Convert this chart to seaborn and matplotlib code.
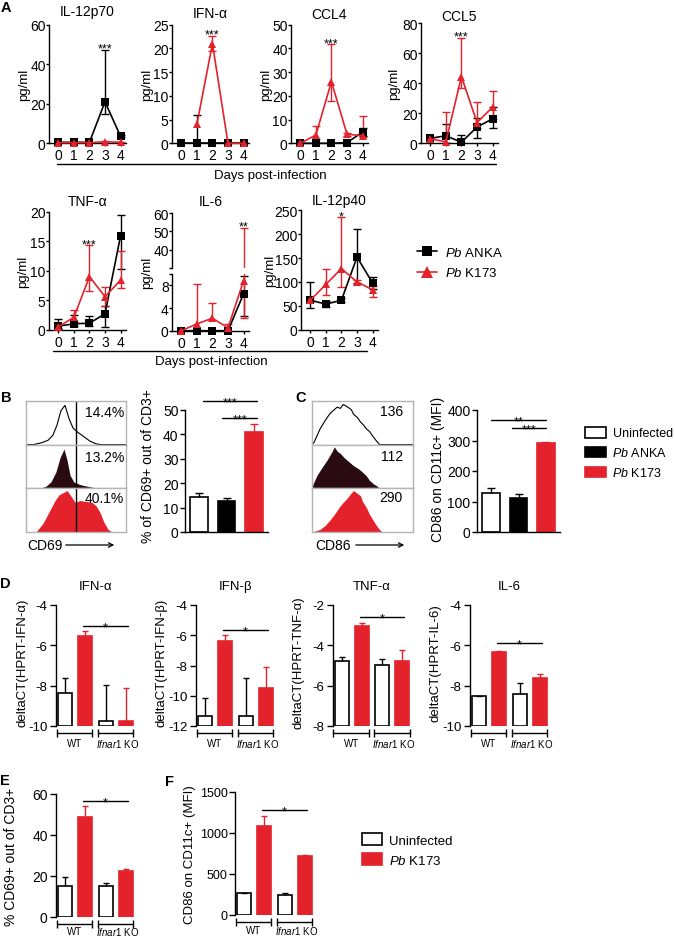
import numpy as np
import pandas as pd
import matplotlib
matplotlib.use("Agg")
import matplotlib.pyplot as plt
import matplotlib.transforms as mtransforms
from matplotlib.lines import Line2D
from matplotlib.patches import Patch, FancyArrowPatch
import seaborn as sns

W, H = 675, 937
RED = "#e3222b"
DARK = "#2a0b12"
GREY = "#b4b4b4"

# ---------------- data ----------------
days = [0, 1, 2, 3, 4]
strains = ["ANKA", "K173"]

# A: serum cytokines (pg/ml) - mean, lower and upper end of the error bar
il12p70_anka = [0.5, 0.5, 0.5, 21.0, 3.5]
il12p70_anka_lo = [0.5, 0.5, 0.5, 15.0, 3.0]
il12p70_anka_hi = [0.5, 0.5, 0.5, 47.0, 4.2]
il12p70_k173 = [0.3, 0.3, 0.3, 0.8, 0.5]
il12p70_k173_lo = [0.3, 0.3, 0.3, 0.8, 0.5]
il12p70_k173_hi = [0.3, 0.3, 0.3, 1.3, 0.8]

ifna_anka = [0.0, 0.0, 0.0, 0.0, 0.0]
ifna_anka_lo = [0.0, 0.0, 0.0, 0.0, 0.0]
ifna_anka_hi = [0.0, 6.0, 0.0, 0.0, 0.0]
ifna_k173 = [np.nan, 4.0, 21.0, 0.0, 0.0]
ifna_k173_lo = [np.nan, 4.0, 19.5, 0.0, 0.0]
ifna_k173_hi = [np.nan, 4.0, 22.7, 0.0, 0.0]

ccl4_anka = [0.0, 0.0, 0.0, 0.3, 4.7]
ccl4_anka_lo = [0.0, 0.0, 0.0, 0.3, 3.2]
ccl4_anka_hi = [0.0, 0.0, 0.0, 0.3, 6.5]
ccl4_k173 = [0.0, 3.5, 26.0, 3.8, 3.2]
ccl4_k173_lo = [0.0, 2.0, 18.0, 3.2, 2.5]
ccl4_k173_hi = [0.0, 7.3, 42.0, 4.3, 11.5]

ccl5_anka = [3.3, 5.0, 0.7, 10.8, 16.3]
ccl5_anka_lo = [3.3, 0.0, 0.0, 3.5, 10.0]
ccl5_anka_hi = [3.3, 12.7, 5.5, 17.0, 24.0]
ccl5_k173 = [3.0, 1.0, 44.4, 13.8, 24.0]
ccl5_k173_lo = [3.0, 0.0, 37.0, 10.0, 16.0]
ccl5_k173_hi = [3.0, 21.0, 70.0, 27.5, 35.0]

tnfa_anka = [0.6, 1.0, 1.1, 2.7, 15.9]
tnfa_anka_lo = [0.2, 0.6, 0.6, 0.5, 10.3]
tnfa_anka_hi = [1.8, 2.5, 2.3, 4.0, 19.4]
tnfa_k173 = [0.5, 2.1, 9.0, 5.6, 8.4]
tnfa_k173_lo = [0.3, 1.3, 6.5, 4.0, 7.0]
tnfa_k173_hi = [0.8, 3.4, 14.3, 7.3, 13.4]

il6_anka = [0.0, 0.0, 0.0, 0.0, 6.5]
il6_anka_lo = [0.0, 0.0, 0.0, 0.0, 2.6]
il6_anka_hi = [0.0, 0.0, 0.0, 0.0, 9.6]
il6_k173 = [0.0, 1.2, 2.2, 0.5, 8.8]
il6_k173_lo = [0.0, 1.2, 2.2, 0.0, 2.3]
il6_k173_hi = [0.0, 8.3, 4.9, 1.2, 52.0]

il12p40_anka = [62, 54, 62, 152, 98]
il12p40_anka_lo = [45, 47, 58, 98, 86]
il12p40_anka_hi = [100, 60, 66, 210, 111]
il12p40_k173 = [62, 95, 128, 100, 84]
il12p40_k173_lo = [58, 72, 90, 96, 68]
il12p40_k173_hi = [66, 128, 236, 104, 92]

# B / C: flow cytometry
bc_groups = ["Uninfected", "Pb ANKA", "Pb K173"]
cd69_pct = [14.2, 12.6, 40.8]
cd69_err = [1.7, 1.3, 3.5]
cd86_mfi = [127, 111, 291]
cd86_err = [16, 12, 5]
cd69_hist_labels = ["14.4%", "13.2%", "40.1%"]
cd86_hist_labels = ["136", "112", "290"]

# histogram outlines (x as fraction of the plot width, y as fraction of height)
cd69_uninf_x = [0, .07, .15, .22, .27, .31, .35, .39, .43, .47, .52, .58, .64, .70, .75, 1]
cd69_uninf_y = [0, 0, .04, .10, .22, .45, .78, .90, .60, .38, .28, .18, .08, .02, 0, 0]
cd69_anka_x = [0, .14, .20, .25, .30, .34, .38, .41, .44, .48, .55, .63, .72, 1]
cd69_anka_y = [0, 0, .05, .15, .38, .70, .90, .65, .30, .14, .08, .04, 0, 0]
cd69_k173_x = [0, .10, .17, .24, .29, .33, .37, .41, .45, .49, .54, .60, .66, .70, .74, .78, .82, .86, 1]
cd69_k173_y = [0, 0, .20, .50, .72, .85, .90, .95, .82, .68, .72, .70, .68, .60, .45, .22, .06, 0, 0]
cd86_uninf_x = [0, .02, .08, .13, .18, .22, .25, .28, .31, .34, .36, .39, .41, .45, .48, .51, .54, .57, .60, .64, .67, 1]
cd86_uninf_y = [0, .05, .36, .55, .72, .80, .86, .83, .92, .88, .85, .80, .70, .62, .52, .45, .36, .30, .20, .08, 0, 0]
cd86_anka_x = [0, .01, .05, .10, .15, .20, .22, .25, .28, .32, .35, .41, .46, .50, .54, .57, .61, .64, .67, 1]
cd86_anka_y = [0, .10, .30, .48, .65, .85, .95, .85, .80, .70, .64, .52, .45, .37, .28, .18, .10, .06, 0, 0]
cd86_k173_x = [0, .03, .08, .13, .18, .22, .25, .28, .31, .35, .38, .41, .44, .48, .50, .54, .57, .61, .64, .67, .70, 1]
cd86_k173_y = [0, .02, .06, .15, .28, .40, .50, .60, .68, .78, .87, .95, .90, .83, .70, .55, .40, .25, .14, .05, 0, 0]

# D-F: WT vs Ifnar1 KO
genotypes = ["WT", "Ifnar1 KO"]
ko_groups = ["WT Uninfected", "WT Pb K173", "KO Uninfected", "KO Pb K173"]
ifna_dct = [-8.37, -5.52, -9.76, -9.76]
ifna_dct_err = [0.76, 0.25, 1.80, 1.64]
ifnb_dct = [-11.36, -6.36, -11.36, -9.51]
ifnb_dct_err = [1.19, 0.38, 2.53, 1.43]
tnfa_dct = [-4.76, -3.02, -4.97, -4.79]
tnfa_dct_err = [0.17, 0.12, 0.27, 0.58]
il6_dct = [-8.52, -6.34, -8.41, -7.63]
il6_dct_err = [0.03, 0.06, 0.55, 0.20]
cd69_ko = [15.0, 48.8, 15.0, 22.6]
cd69_ko_err = [4.5, 5.3, 1.5, 1.0]
cd86_ko = [265, 1089, 240, 716]
cd86_ko_err = [8, 114, 30, 16]

# ---------------- style ----------------
sns.set_theme(style="ticks")
plt.rcParams["font.family"] = ["Liberation Sans", "DejaVu Sans"]
plt.rcParams.update({
    "mathtext.fontset": "custom",
    "mathtext.rm": "Liberation Sans",
    "mathtext.it": "Liberation Sans:italic",
    "axes.unicode_minus": False,
    "axes.edgecolor": "black", "axes.linewidth": 1.0,
    "xtick.color": "black", "ytick.color": "black",
    "xtick.major.size": 2.5, "ytick.major.size": 3.5,
    "xtick.major.width": 1.0, "ytick.major.width": 1.0,
    "xtick.major.pad": 1.0, "ytick.major.pad": 1.2,
    "xtick.labelsize": 10, "ytick.labelsize": 10,
    "text.color": "black", "axes.labelcolor": "black",
})

line_colors = {"ANKA": "black", "K173": RED}
line_markers = {"ANKA": "s", "K173": "^"}
bar_fill = {"Uninfected": "white", "Pb ANKA": "black", "Pb K173": RED}
bar_edge = {"Uninfected": "black", "Pb ANKA": "black", "Pb K173": RED}
ko_fill = {"WT Uninfected": "white", "WT Pb K173": RED, "KO Uninfected": "white", "KO Pb K173": RED}
ko_edge = {"WT Uninfected": "black", "WT Pb K173": RED, "KO Uninfected": "black", "KO Pb K173": RED}

fig = plt.figure(figsize=(W / 100, H / 100), dpi=100)


def fx(x):
    return x / W


def fy(y):
    return 1 - y / H


def add_ax(x0, y0, x1, y1):
    return fig.add_axes([fx(x0), fy(y1), (x1 - x0) / W, (y1 - y0) / H])


def ftext(x, y, s, **kw):
    kw.setdefault("va", "baseline")
    fig.text(fx(x), fy(y), s, **kw)


def fline(x0, y0, x1, y1):
    fig.add_artist(Line2D([fx(x0), fx(x1)], [fy(y0), fy(y1)],
                          transform=fig.transFigure, color="black", lw=1.0))


def ylabel_at(ax, text, dx_px, dy=0.5, size=10):
    ax.set_ylabel(text, fontsize=size, va="center")
    ax.yaxis.set_label_coords(dx_px / (ax.get_position().width * W), dy)


def title_at(ax, text, y, size=10):
    pos = ax.get_position()
    ftext((pos.x0 + pos.width / 2) * W, y, text, ha="center", fontsize=size)


def whiskers(ax, x, m, lo, hi, color, cap=6, clip=False, z=2):
    x = np.asarray(x, float)
    m = np.asarray(m, float)
    for end in (np.asarray(hi, float), np.asarray(lo, float)):
        sel = np.isfinite(m) & (np.abs(end - m) > 1e-9)
        if not sel.any():
            continue
        ax.vlines(x[sel], m[sel], end[sel], colors=color, lw=1.0, clip_on=clip, zorder=z)
        ax.plot(x[sel], end[sel], ls="none", marker="_", ms=cap, mew=1.0,
                color=color, clip_on=clip, zorder=z)


def stars(ax, x, y, s, size=9):
    ax.annotate(s, (x, y), xytext=(0, -0.57 * size), textcoords="offset points",
                ha="center", va="baseline", fontsize=size, annotation_clip=False)


def sig_line(ax, x0, x1, y, s, size=9):
    ax.plot([x0, x1], [y, y], color="black", lw=1.0, clip_on=False)
    ax.annotate(s, ((x0 + x1) / 2, y), xytext=(0, 0.8 - 0.42 * size), textcoords="offset points",
                ha="center", va="baseline", fontsize=size, annotation_clip=False)


def cytokine_panel(ax, anka, k173, ylim, yticks, yticklabels=None,
                   line_clip=False, whisker_clip=False):
    rows = []
    for strain, series in zip(strains, (anka, k173)):
        for d, v in zip(days, series[0]):
            if np.isfinite(v):
                rows.append({"day": d, "value": v, "strain": strain})
        whiskers(ax, days, *series, line_colors[strain], clip=whisker_clip)
    df = pd.DataFrame(rows)
    sns.lineplot(data=df, x="day", y="value", hue="strain", style="strain",
                 hue_order=strains, style_order=strains, palette=line_colors,
                 markers=line_markers, dashes=False, estimator=None, legend=False,
                 linewidth=1.2, markersize=5.5, markeredgewidth=0,
                 clip_on=line_clip, zorder=3, ax=ax)
    ax.set_xlim(-0.6, 4.35)
    ax.set_ylim(*ylim)
    ax.set_yticks(yticks)
    if yticklabels is not None:
        ax.set_yticklabels(yticklabels)
    ax.set_xticks(days)
    ax.set_xlabel("")
    ax.set_ylabel("")
    ax.tick_params(axis="y", length=2.0, pad=0.4)
    sns.despine(ax=ax)


# ---------------- A ----------------
ftext(1, 12, "A", fontsize=10.5, fontweight="bold")

ax = add_ax(49, 25.7, 126, 144.3)
cytokine_panel(ax, (il12p70_anka, il12p70_anka_lo, il12p70_anka_hi),
               (il12p70_k173, il12p70_k173_lo, il12p70_k173_hi), (0, 60), [0, 20, 40, 60])
stars(ax, 3, 50, "***")
ylabel_at(ax, "pg/ml", -25, size=9.5)
title_at(ax, "IL-12p70", 16)

ax = add_ax(172, 25.7, 249, 144.3)
cytokine_panel(ax, (ifna_anka, ifna_anka_lo, ifna_anka_hi),
               (ifna_k173, ifna_k173_lo, ifna_k173_hi), (0, 25), [0, 5, 10, 15, 20, 25])
stars(ax, 2, 23.8, "***")
ylabel_at(ax, "pg/ml", -25, size=9.5)
title_at(ax, "IFN-α", 18)

ax = add_ax(291, 25.7, 368, 144.3)
cytokine_panel(ax, (ccl4_anka, ccl4_anka_lo, ccl4_anka_hi),
               (ccl4_k173, ccl4_k173_lo, ccl4_k173_hi), (0, 50), [0, 10, 20, 30, 40, 50])
stars(ax, 2, 44, "***")
ylabel_at(ax, "pg/ml", -25, size=9.5)
title_at(ax, "CCL4", 19)

ax = add_ax(421, 24, 498, 144.3)
cytokine_panel(ax, (ccl5_anka, ccl5_anka_lo, ccl5_anka_hi),
               (ccl5_k173, ccl5_k173_lo, ccl5_k173_hi), (0, 80), [0, 20, 40, 60, 80])
stars(ax, 2, 74, "***")
ylabel_at(ax, "pg/ml", -27, size=9.5)
title_at(ax, "CCL5", 21)

fline(57, 165, 496, 165)
ftext(270, 179, "Days post-infection", ha="center", fontsize=9.5)

ax = add_ax(49, 212.7, 126, 330.7)
cytokine_panel(ax, (tnfa_anka, tnfa_anka_lo, tnfa_anka_hi),
               (tnfa_k173, tnfa_k173_lo, tnfa_k173_hi), (0, 20), [0, 5, 10, 15, 20])
stars(ax, 2, 15.1, "***")
ylabel_at(ax, "pg/ml", -26, size=9.5)
title_at(ax, "TNF-α", 206)

# IL-6 with a broken y axis
ax_lo = add_ax(172, 275, 249, 331.7)
cytokine_panel(ax_lo, (il6_anka, il6_anka_lo, il6_anka_hi),
               (il6_k173, il6_k173_lo, il6_k173_hi), (0, 10), [0, 4, 8, 10],
               ["0", "4", "8", ""], line_clip=False, whisker_clip=True)
ax_hi = add_ax(172, 214, 249, 269)
cytokine_panel(ax_hi, (il6_anka, il6_anka_lo, il6_anka_hi),
               (il6_k173, il6_k173_lo, il6_k173_hi), (30, 60), [30, 40, 50, 60],
               ["", "40", "50", "60"], line_clip=True, whisker_clip=True)
ax_hi.spines["bottom"].set_visible(False)
ax_hi.set_xticks([])
stars(ax_hi, 4, 55, "**")
ylabel_at(ax_lo, "pg/ml", -25, dy=1.03, size=9.5)
title_at(ax_hi, "IL-6", 206)

ax = add_ax(301, 211, 378, 331)
cytokine_panel(ax, (il12p40_anka, il12p40_anka_lo, il12p40_anka_hi),
               (il12p40_k173, il12p40_k173_lo, il12p40_k173_hi), (0, 250),
               [0, 50, 100, 150, 200, 250])
stars(ax, 2, 246, "*")
ylabel_at(ax, "pg/ml", -31, size=9.5)
title_at(ax, "IL-12p40", 205)

fline(53, 352, 367, 352)
ftext(211, 365, "Days post-infection", ha="center", fontsize=9.5)

a_handles = [Line2D([], [], color="black", marker="s", ms=7.5, lw=1.2, mew=0),
             Line2D([], [], color=RED, marker="^", ms=8.5, lw=1.2, mew=0)]
fig.legend(a_handles, [r"$\it{Pb}$ ANKA", r"$\it{Pb}$ K173"], loc="center left",
           bbox_to_anchor=(fx(417), fy(263.5)), frameon=False, fontsize=9.5,
           handlelength=1.5, handletextpad=0.6, labelspacing=0.6,
           borderpad=0, borderaxespad=0)


# ---------------- B / C ----------------
def hist_stack(x0, y0, x1, y1, curves, labels, label_x, label_y, gate=None):
    h = (y1 - y0) / 3
    for i, (hx, hy, style) in enumerate(curves):
        hax = add_ax(x0, y0 + i * h, x1, y0 + (i + 1) * h)
        if style == "line":
            hax.plot(hx, hy, color="black", lw=0.8)
        else:
            hax.fill_between(hx, 0, hy, color=style, lw=0)
        if gate is not None:
            hax.axvline(gate, color="black", lw=1.0)
        hax.set_xlim(0, 1)
        hax.set_ylim(0, 1)
        hax.set_xticks([])
        hax.set_yticks([])
        for sp in hax.spines.values():
            sp.set_visible(True)
            sp.set_color(GREY)
            sp.set_linewidth(1.0)
        ftext(label_x, label_y[i], labels[i], ha="right", fontsize=10)


def three_bars(ax, vals, errs, ylim, yticks):
    sns.barplot(x=bc_groups, y=vals, hue=bc_groups, palette=bar_fill, saturation=1,
                width=0.65, legend=False, errorbar=None, linewidth=1.2,
                edgecolor="black", ax=ax, zorder=2)
    for p, g in zip(ax.patches, bc_groups):
        p.set_edgecolor(bar_edge[g])
    for i, (v, e, g) in enumerate(zip(vals, errs, bc_groups)):
        whiskers(ax, [i], [v], [v], [v + e], bar_edge[g], cap=6, z=3)
    ax.set_xlim(-0.5, 2.5)
    ax.set_ylim(*ylim)
    ax.set_yticks(yticks)
    ax.set_xticks([])
    ax.set_xlabel("")
    sns.despine(ax=ax)


ftext(1, 402, "B", fontsize=10.5, fontweight="bold")
hist_stack(26, 402, 126, 533,
           [(cd69_uninf_x, cd69_uninf_y, "line"), (cd69_anka_x, cd69_anka_y, DARK),
            (cd69_k173_x, cd69_k173_y, RED)],
           cd69_hist_labels, 124, [417, 462, 503], gate=0.5)
ftext(27, 550, "CD69", fontsize=10)
fig.add_artist(FancyArrowPatch((fx(63), fy(546)), (fx(117), fy(546)), transform=fig.transFigure,
                               arrowstyle="->", mutation_scale=8, lw=0.9, color="black"))

ax = add_ax(185, 411, 268, 533)
three_bars(ax, cd69_pct, cd69_err, (0, 50), [0, 10, 20, 30, 40, 50])
sig_line(ax, 0.15, 2.1, 53.7, "***")
sig_line(ax, 0.85, 2.1, 46.7, "***")
ylabel_at(ax, "% of CD69+ out of CD3+", -37, dy=0.55)

ftext(295, 402, "C", fontsize=10.5, fontweight="bold")
hist_stack(312, 402, 413, 533,
           [(cd86_uninf_x, cd86_uninf_y, "line"), (cd86_anka_x, cd86_anka_y, DARK),
            (cd86_k173_x, cd86_k173_y, RED)],
           cd86_hist_labels, 403, [416, 461, 502])
ftext(351, 550, "CD86", ha="right", fontsize=10)
fig.add_artist(FancyArrowPatch((fx(353), fy(546)), (fx(407), fy(546)), transform=fig.transFigure,
                               arrowstyle="->", mutation_scale=8, lw=0.9, color="black"))

ax = add_ax(477, 411, 560, 533)
three_bars(ax, cd86_mfi, cd86_err, (0, 400), [0, 100, 200, 300, 400])
sig_line(ax, 0.0, 2.0, 367, "**")
sig_line(ax, 0.75, 2.0, 341, "***")
ylabel_at(ax, "CD86 on CD11c+ (MFI)", -39, dy=0.52)

bc_handles = [Patch(facecolor=bar_fill[g], edgecolor=bar_edge[g], lw=1.2) for g in bc_groups]
fig.legend(bc_handles, ["Uninfected", r"$\it{Pb}$ ANKA", r"$\it{Pb}$ K173"], loc="center left",
           bbox_to_anchor=(fx(585), fy(454)), frameon=False, fontsize=9,
           handlelength=1.65, handleheight=0.95, handletextpad=0.55, labelspacing=0.55,
           borderpad=0, borderaxespad=0)


# ---------------- D / E / F ----------------
def group_brackets(ax, text_px=17, size=7):
    base = ax.get_xaxis_transform()
    t_line = base + mtransforms.ScaledTranslation(0, -7 / 100, fig.dpi_scale_trans)
    t_text = base + mtransforms.ScaledTranslation(0, -text_px / 100, fig.dpi_scale_trans)
    spans = [(-0.42, 1.35), (1.6, 3.37)]
    names = ["WT", r"$\it{Ifnar1}$ KO"]
    for (a, b), g, name in zip(spans, genotypes, names):
        ax.plot([a, b], [0, 0], transform=t_line, color="black", lw=1.0,
                marker="|", ms=6, mew=1.0, clip_on=False)
        cx = (a + b) / 2 + (0.1 if g != "WT" else 0.0)
        ax.text(cx, 0, name, transform=t_text, ha="center", va="center", fontsize=size)


def ko_axes(ax, vals, errs, ylim, yticks, use_seaborn, text_px=17):
    base = ylim[0]
    if use_seaborn:
        sns.barplot(x=ko_groups, y=vals, hue=ko_groups, palette=ko_fill, saturation=1,
                    width=0.69, legend=False, errorbar=None, linewidth=1.2,
                    edgecolor="black", ax=ax, zorder=2)
        for p, g in zip(ax.patches, ko_groups):
            p.set_edgecolor(ko_edge[g])
    else:
        ax.bar(range(4), np.array(vals) - base, bottom=base, width=0.69,
               color=[ko_fill[g] for g in ko_groups],
               edgecolor=[ko_edge[g] for g in ko_groups], linewidth=1.2, zorder=2)
    for i, (v, e, g) in enumerate(zip(vals, errs, ko_groups)):
        whiskers(ax, [i], [v], [v], [v + e], ko_edge[g], cap=5, z=3)
    ax.set_xlim(-0.45, 3.45)
    ax.set_ylim(*ylim)
    ax.set_yticks(yticks)
    ax.set_xticks([])
    ax.set_xlabel("")
    ax.tick_params(axis="y", length=4.5, pad=1.5)
    sns.despine(ax=ax, bottom=True)
    group_brackets(ax, text_px=text_px)


ftext(0, 588, "D", fontsize=10.5, fontweight="bold")
d_specs = [
    (56, "IFN-α", "deltaCT(HPRT-IFN-α)", ifna_dct, ifna_dct_err, (-10, -4), [-10, -8, -6, -4], -5.04),
    (196, "IFN-β", "deltaCT(HPRT-IFN-β)", ifnb_dct, ifnb_dct_err, (-12, -4), [-12, -10, -8, -6, -4], -5.65),
    (332.5, "TNF-α", "deltaCT(HPRT-TNF-α)", tnfa_dct, tnfa_dct_err, (-8, -2), [-8, -6, -4, -2], -2.6),
    (470, "IL-6", "deltaCT(HPRT-IL-6)", il6_dct, il6_dct_err, (-10, -4), [-10, -8, -6, -4], -5.88),
]
for left, title, ylab, vals, errs, ylim, yticks, sig_y in d_specs:
    ax = add_ax(left, 606, left + 79, 727)
    ko_axes(ax, vals, errs, ylim, yticks, use_seaborn=False)
    ax.tick_params(labelsize=9.5)
    sig_line(ax, 0.9, 3.1, sig_y, "*")
    ylabel_at(ax, ylab, -34, dy=0.53, size=9.5)
    title_at(ax, title, 590, size=9.5)

ftext(0, 785, "E", fontsize=10.5, fontweight="bold")
ax = add_ax(56, 795, 135, 918)
ko_axes(ax, cd69_ko, cd69_ko_err, (0, 60), [0, 20, 40, 60], use_seaborn=True, text_px=14)
sig_line(ax, 0.9, 3.1, 56.5, "*")
ylabel_at(ax, "% CD69+ out of CD3+", -45)

ftext(165, 786, "F", fontsize=10.5, fontweight="bold")
ax = add_ax(235, 793, 314, 916)
ko_axes(ax, cd86_ko, cd86_ko_err, (0, 1500), [0, 500, 1000, 1500], use_seaborn=True, text_px=15)
ax.tick_params(axis="y", labelsize=9, length=4, pad=1.2)
sig_line(ax, 0.9, 3.1, 1280, "*")
ylabel_at(ax, "CD86 on CD11c+ (MFI)", -45, size=9.5)

ef_handles = [Patch(facecolor=ko_fill[g], edgecolor=ko_edge[g], lw=1.2) for g in ko_groups[:2]]
fig.legend(ef_handles, ["Uninfected", r"$\it{Pb}$ K173"], loc="center left",
           bbox_to_anchor=(fx(362), fy(851)), frameon=False, fontsize=9.5,
           handlelength=1.55, handleheight=0.95, handletextpad=0.5, labelspacing=0.5,
           borderpad=0, borderaxespad=0)

fig.savefig("out.png", dpi=100)
